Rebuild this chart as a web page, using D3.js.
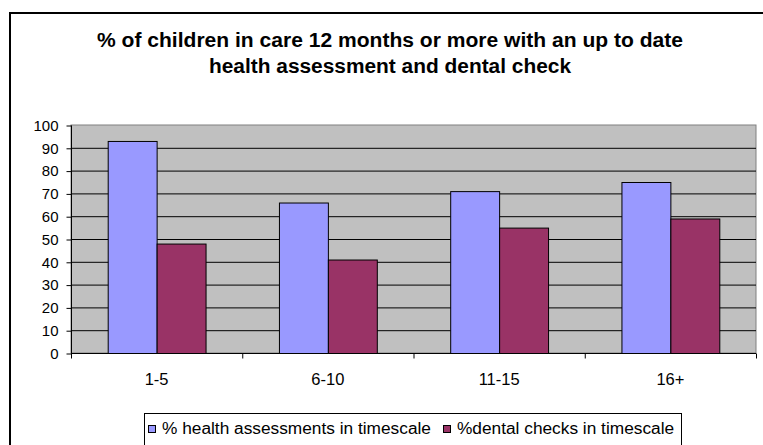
<!doctype html>
<html>
<head>
<meta charset="utf-8">
<script src="https://cdnjs.cloudflare.com/ajax/libs/d3/7.8.5/d3.min.js"></script>
<style>
  body { margin: 0; background: #fff; }
  svg { display: block; font-family: "Liberation Sans", Arial, sans-serif; }
</style>
</head>
<body>
<svg id="chart" width="763" height="445"></svg>
<script>
// chart data
var ageGroups = ["1-5", "6-10", "11-15", "16+"];
var healthValues = [93, 66, 71, 75];
var dentalValues = [48, 41, 55, 59];
var seriesNames = ["% health assessments in timescale", "%dental checks in timescale"];
var yTicks = [0, 10, 20, 30, 40, 50, 60, 70, 80, 90, 100];
var titleLines = ["% of children in care 12 months or more with an up to date",
                  "health assessment and dental check"];

var colors = ["#9999ff", "#993366"];
var svg = d3.select("#chart");

// outer chart frame (runs off right/bottom edge)
svg.append("rect")
  .attr("x", 10).attr("y", 13)
  .attr("width", 770).attr("height", 450)
  .attr("fill", "#fff").attr("stroke", "#000").attr("stroke-width", 2);

var plot = {left: 71, top: 125, right: 756, bottom: 353};

var x = d3.scaleBand()
  .domain(ageGroups)
  .range([plot.left, plot.right]);

var y = d3.scaleLinear()
  .domain([0, 100])
  .range([plot.bottom, plot.top]);

// bar width with excel-ish 150% gap
var barW = x.bandwidth() / 3.5;
var gap = x.bandwidth() - 2 * barW;

svg.append("rect")
  .attr("x", plot.left).attr("y", plot.top)
  .attr("width", plot.right - plot.left).attr("height", plot.bottom - plot.top)
  .attr("fill", "#c0c0c0")
  .attr("stroke", "#808080").attr("stroke-width", 1);

// gridlines
svg.append("g")
  .selectAll("line")
  .data(yTicks.filter(d => d > 0 && d < 100))
  .enter().append("line")
  .attr("x1", plot.left).attr("x2", plot.right)
  .attr("y1", d => y(d) + 0.5).attr("y2", d => y(d) + 0.5)
  .attr("stroke", "#000").attr("stroke-width", 1);

// bars
var series = [healthValues, dentalValues];
series.forEach(function(vals, si) {
  svg.append("g")
    .selectAll("rect")
    .data(ageGroups)
    .enter().append("rect")
    .attr("x", (d, i) => x(d) + gap / 2 + si * barW + 0.5)
    .attr("y", (d, i) => y(vals[i]) + 0.5)
    .attr("width", barW)
    .attr("height", (d, i) => y(0) - y(vals[i]))
    .attr("fill", colors[si])
    .attr("stroke", "#000").attr("stroke-width", 1);
});

// y axis
var yAxis = d3.axisLeft(y).tickValues(yTicks).tickSize(5).tickPadding(8);
var gy = svg.append("g")
  .attr("transform", "translate(" + (plot.left + 0.5) + ",0.5)")
  .call(yAxis);
gy.selectAll("text").attr("font-size", 15).attr("fill", "#000").attr("font-family", "Liberation Sans, Arial");
gy.selectAll("line, path").attr("stroke", "#000");
gy.select(".domain").attr("d", "M0," + plot.top + "V" + plot.bottom);

// x axis, ticks between categories
var gx = svg.append("g")
  .attr("transform", "translate(0," + (plot.bottom + 0.5) + ")");
gx.append("line")
  .attr("x1", plot.left).attr("x2", plot.right)
  .attr("stroke", "#000");
gx.selectAll("line.tk")
  .data(ageGroups.concat(["end"]))
  .enter().append("line")
  .attr("class", "tk")
  .attr("x1", (d, i) => plot.left + i * x.bandwidth() + 0.5)
  .attr("x2", (d, i) => plot.left + i * x.bandwidth() + 0.5)
  .attr("y1", 0).attr("y2", 5)
  .attr("stroke", "#000");
gx.selectAll("text")
  .data(ageGroups)
  .enter().append("text")
  .attr("x", d => x(d) + x.bandwidth() / 2)
  .attr("y", 31)
  .attr("text-anchor", "middle")
  .attr("font-size", 16.5)
  .text(d => d);

// title
var titleWidths = [586, 362];
svg.append("g")
  .selectAll("text")
  .data(titleLines)
  .enter().append("text")
  .attr("x", 390)
  .attr("y", (d, i) => 47 + i * 26)
  .attr("text-anchor", "middle")
  .attr("font-size", 19.5)
  .attr("font-weight", "bold")
  .attr("textLength", (d, i) => titleWidths[i])
  .attr("lengthAdjust", "spacingAndGlyphs")
  .text(d => d);

// legend
var lg = svg.append("g");
lg.append("rect")
  .attr("x", 144.5).attr("y", 413.5)
  .attr("width", 537).attr("height", 40)
  .attr("fill", "#fff").attr("stroke", "#000");
var lx = [148, 443];
seriesNames.forEach(function(name, i) {
  lg.append("rect")
    .attr("x", lx[i] + 0.5).attr("y", 425.5)
    .attr("width", 7).attr("height", 7)
    .attr("fill", colors[i]).attr("stroke", "#000");
  lg.append("text")
    .attr("x", lx[i] + 14).attr("y", 434)
    .attr("font-size", 17.3)
    .text(name);
});
</script>
</body>
</html>
